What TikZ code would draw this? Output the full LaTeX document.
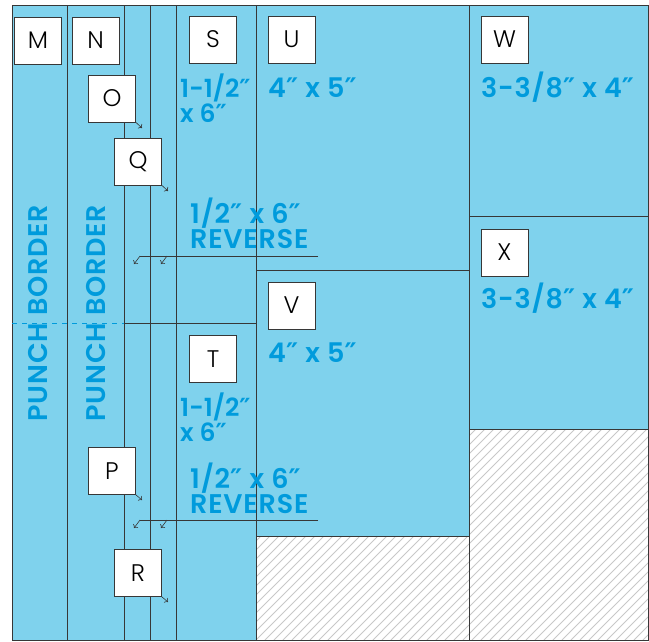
\documentclass[tikz,border=0pt]{standalone}
\usepackage{fontspec}
\setmainfont{Poppins}
\newfontfamily\sizefont{Poppins SemiBold}[LetterSpace=3]
\newfontfamily\tightsizefont{Poppins SemiBold}
\newfontfamily\tagfont{Poppins Light}
\newfontfamily\primefont{DejaVu Sans}
\newcommand\inch{{\primefont\bfseries ″}}
\usepackage{tikz}
\usetikzlibrary{arrows.meta}
\definecolor{quilt}{RGB}{127,210,237}
\definecolor{ink}{RGB}{0,155,220}
\definecolor{seam}{RGB}{55,55,55}
\definecolor{hatch}{RGB}{200,200,200}

\begin{document}
\begin{tikzpicture}[x = 1pt, y = -1pt,
  tag/.style = {draw=seam, fill=white, minimum size=47pt, inner sep=0pt, font=\tagfont\fontsize{24}{24}\selectfont},
  size/.style = {anchor=base west, inner sep=0pt, text=ink, align=left, font=\sizefont\fontsize{27}{25}\selectfont},
  tightsize/.style = {size, font=\tightsizefont\fontsize{25}{25}\selectfont},
  seamline/.style = {draw=seam, line width=0.8pt},
  pointer/.style = {seam, line width=0.6pt, -{To[length=3pt,width=6pt]}}
]
\useasboundingbox (0,0) rectangle (649,641);
% fabric and leftover areas
\fill[quilt] (12,5) rectangle (648,640);
\fill[white] (256,536) rectangle (469,640);
\fill[white] (469,429) rectangle (648,640);
\begin{scope}
  \clip (256,536) rectangle (469,640) (469,429) rectangle (648,640);
  \foreach \s in {40,49,...,660}
    \draw[hatch, line width=0.9pt] (\s,640) -- ++(220,-220);
\end{scope}
% seams
\draw[seamline] (12,5) rectangle (648,640);
\foreach \x in {67,124,150,176,256,469}
  \draw[seamline] (\x,5) -- (\x,640);
\draw[seamline] (256,270) -- (469,270);
\draw[seamline] (469,216) -- (648,216);
\draw[seamline] (256,536) -- (469,536);
\draw[seamline] (469,429) -- (648,429);
\draw[seamline] (124,323) -- (256,323);
\draw[ink, line width=0.8pt, dash pattern=on 5pt off 5pt] (12,323) -- (124,323);

% pieces
\node[tag] (M) at (38,40.5) {M};
\node[tag] (N) at (95.5,40.5) {N};
\node[tag] (O) at (112,98.5) {O};
\node[tag] (Q) at (138,161.5) {Q};
\node[tag] (P) at (112,471) {P};
\node[tag] (R) at (138,573) {R};
\node[tag] (S) at (213,39.5) {S};
\node[tag] (T) at (213,359) {T};
\node[tag] (U) at (291.5,39.5) {U};
\node[tag] (V) at (291.5,305.5) {V};
\node[tag] (W) at (504.5,39.5) {W};
\node[tag] (X) at (504.5,252.5) {X};

% cut sizes
\node[tightsize] (sizeS) at (180,122) {1-1/2\inch\\x 6\inch};
\node[tightsize] (sizeT) at (180,441) {1-1/2\inch\\x 6\inch};
\node[size] (sizeU) at (268,97) {4\inch{} x 5\inch};
\node[size] (sizeV) at (268,362) {4\inch{} x 5\inch};
\node[size] (sizeW) at (481,97) {3-3/8\inch{} x 4\inch};
\node[size] (sizeX) at (481,308) {3-3/8\inch{} x 4\inch};
\node[size] (revA) at (190,248) {1/2\inch{} x 6\inch\\REVERSE};
\node[size] (revB) at (190,513) {1/2\inch{} x 6\inch\\REVERSE};
\node[size, anchor=base, rotate=90] (punchM) at (48,313) {PUNCH BORDER};
\node[size, anchor=base, rotate=90] (punchN) at (105,313) {PUNCH BORDER};

% pointers
\coordinate (oTip) at (142,128);
\coordinate (qTip) at (168,191);
\coordinate (pTip) at (142,500);
\coordinate (rTip) at (168,602);
\draw[pointer] (O.south east) -- (oTip);
\draw[pointer] (Q.south east) -- (qTip);
\draw[pointer] (P.south east) -- (pTip);
\draw[pointer] (R.south east) -- (rTip);

\coordinate (revAend) at (318,256);
\coordinate (revAfork) at (140,256);
\coordinate (revAmid) at (167,256);
\draw[seam, line width=0.6pt] (revAend) -- (revAfork);
\draw[pointer] (revAfork) -- ++(-6,8);
\draw[pointer] (revAmid) -- ++(-6,8);
\coordinate (revBend) at (318,520);
\coordinate (revBfork) at (140,520);
\coordinate (revBmid) at (167,520);
\draw[seam, line width=0.6pt] (revBend) -- (revBfork);
\draw[pointer] (revBfork) -- ++(-6,8);
\draw[pointer] (revBmid) -- ++(-6,8);
\end{tikzpicture}
\end{document}
